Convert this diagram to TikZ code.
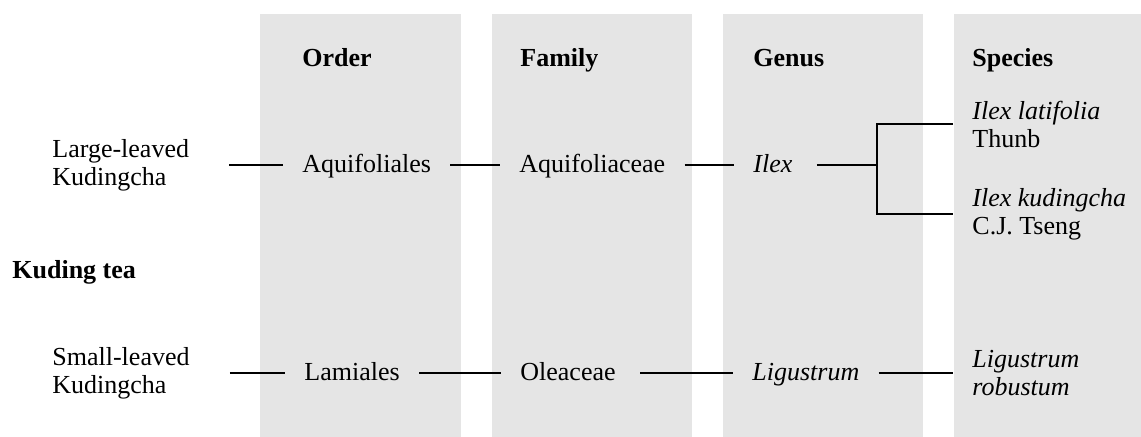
\documentclass[tikz,border=0pt]{standalone}
\usepackage{fontspec}
\setmainfont{Liberation Serif}
\usetikzlibrary{positioning}

\begin{document}
\begin{tikzpicture}[x=0.5pt,y=-0.5pt,
  txt/.style={anchor=west,inner sep=0pt,font=\fontsize{13}{14}\selectfont,text height=2ex,text depth=.3ex},
  two/.style={anchor=west,inner sep=0pt,font=\fontsize{13}{14}\selectfont,align=left},
  hdr/.style={txt,font=\fontsize{13}{14}\selectfont\bfseries},
  band/.style={fill=gray!20,draw=none},
  link/.style={line width=1pt,shorten <=9.5pt,shorten >=9.5pt}]
\useasboundingbox (0,0) rectangle (1141,437);
\fill[band] (260,14) rectangle (461,437);
\fill[band] (492,14) rectangle (692,437);
\fill[band] (723,14) rectangle (923,437);
\fill[band] (954,14) rectangle (1141,437);
\node[hdr] (order) at (302,59) {Order};
\node[hdr] (family) at (520,59) {Family};
\node[hdr] (genus) at (753,59) {Genus};
\node[hdr] (species) at (972,59) {Species};
\node[hdr] (tea) at (12,271) {Kuding tea};
\node[two] (large) at (52,165) {Large-leaved\\Kudingcha};
\node[txt] (aqf) at (302,165) {Aquifoliales};
\node[txt] (aqc) at (519,165) {Aquifoliaceae};
\node[txt,font=\fontsize{13}{14}\selectfont\itshape] (ilex) at (753,165) {Ilex};
\coordinate (jn) at (877,165);
\node[two] (lat) at (972,124) {\itshape Ilex latifolia\\Thunb};
\node[two] (kud) at (972,214) {\itshape Ilex kudingcha\\C.J. Tseng};
\node[two] (small) at (52,373) {Small-leaved\\Kudingcha};
\node[txt] (lam) at (304,373) {Lamiales};
\node[txt] (ole) at (520,373) {Oleaceae};
\node[txt,font=\fontsize{13}{14}\selectfont\itshape] (lig) at (752,373) {Ligustrum};
\node[two,font=\fontsize{13}{14}\selectfont\itshape] (rob) at (972,373) {Ligustrum\\robustum};
\draw[link,shorten <=20pt] (large) -- (aqf);
\draw[link] (aqf) -- (aqc);
\draw[link] (aqc) -- (ilex);
\draw[link,shorten >=0pt,shorten <=12pt] (ilex) -- (jn);
\draw[link] (lat.west) -| (jn) |- (kud.west);
\draw[link,shorten <=20pt] (small) -- (lam);
\draw[link] (lam) -- (ole);
\draw[link,shorten <=12pt] (ole) -- (lig);
\draw[link] (lig) -- (rob);
\end{tikzpicture}
\end{document}
